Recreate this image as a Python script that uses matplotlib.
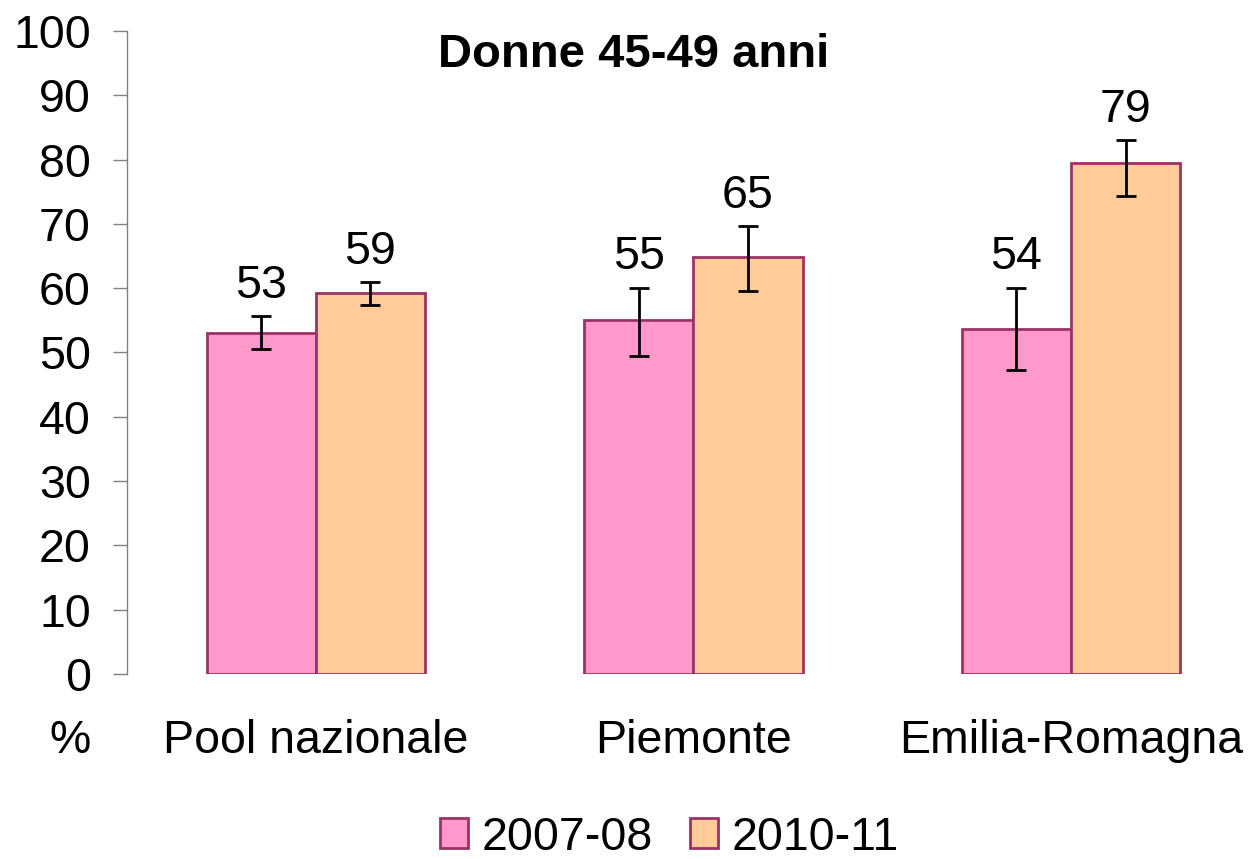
import matplotlib.pyplot as plt
from matplotlib.patches import Patch

plt.rcParams['font.family'] = ['Liberation Sans', 'DejaVu Sans']

categories = ["Pool nazionale", "Piemonte", "Emilia-Romagna"]
series = ["2007-08", "2010-11"]
values_0708 = [53.0, 55.0, 53.6]
values_1011 = [59.2, 64.8, 79.4]
low_0708 = [50.5, 49.5, 47.3]
high_0708 = [55.6, 60.1, 60.1]
low_1011 = [57.4, 59.6, 74.3]
high_1011 = [61.0, 69.7, 83.0]
labels_0708 = ["53", "55", "54"]
labels_1011 = ["59", "65", "79"]
yticks = [0, 10, 20, 30, 40, 50, 60, 70, 80, 90, 100]

colors = ["#FF99CC", "#FFCC99"]
edge = "#993366"
fs = 33.5

fig = plt.figure(figsize=(12.49, 8.59), dpi=100)
ax = fig.add_axes([0.1017, 0.2154, 0.8983, 0.7485])

w = 0.289
x = list(range(len(categories)))

data = [(values_0708, low_0708, high_0708, labels_0708, -w / 2),
        (values_1011, low_1011, high_1011, labels_1011, w / 2)]

for i, (vals, lo, hi, labs, off) in enumerate(data):
    xs = [c + off for c in x]
    ax.bar(xs, vals, width=w, color=colors[i], edgecolor=edge, linewidth=2, zorder=2)
    err = [[v - l for v, l in zip(vals, lo)], [h - v for v, h in zip(vals, hi)]]
    ax.errorbar(xs, vals, yerr=err, fmt='none', ecolor='black', elinewidth=2,
                capsize=7.5, capthick=2, zorder=3)
    for xx, h, t in zip(xs, hi, labs):
        ax.annotate(t, (xx, h), xytext=(0, 13), textcoords='offset points',
                    ha='center', va='baseline', fontsize=fs)

ax.set_xlim(-0.5, 2.4715)
ax.set_ylim(0, 100)
ax.set_yticks(yticks)
ax.tick_params(axis='y', length=10, width=1, color='#808080', pad=16, labelsize=fs)
ax.set_xticks([])
for s in ['top', 'right', 'bottom']:
    ax.spines[s].set_visible(False)
ax.spines['left'].set_color('#808080')
ax.spines['left'].set_linewidth(1)

for c, name in zip(x, categories):
    ax.text(c, -10.5, name, ha='center', va='center', fontsize=fs,
            transform=ax.transData)
ax.text(-0.65, -10.5, "%", ha='center', va='center', fontsize=fs, transform=ax.transData,
        clip_on=False)

fig.text(0.507, 0.936, "Donne 45-49 anni", ha='center', va='center', fontsize=34,
         fontweight='bold')

handles = [Patch(facecolor=colors[i], edgecolor=edge, linewidth=2, label=series[i])
           for i in range(2)]
fig.legend(handles=handles, loc='center', bbox_to_anchor=(0.536, 0.025), ncol=2,
           frameon=False, fontsize=fs, handlelength=0.6, handleheight=0.6,
           handletextpad=0.3, columnspacing=0.8, borderaxespad=0)

fig.savefig("out.png", dpi=100)
